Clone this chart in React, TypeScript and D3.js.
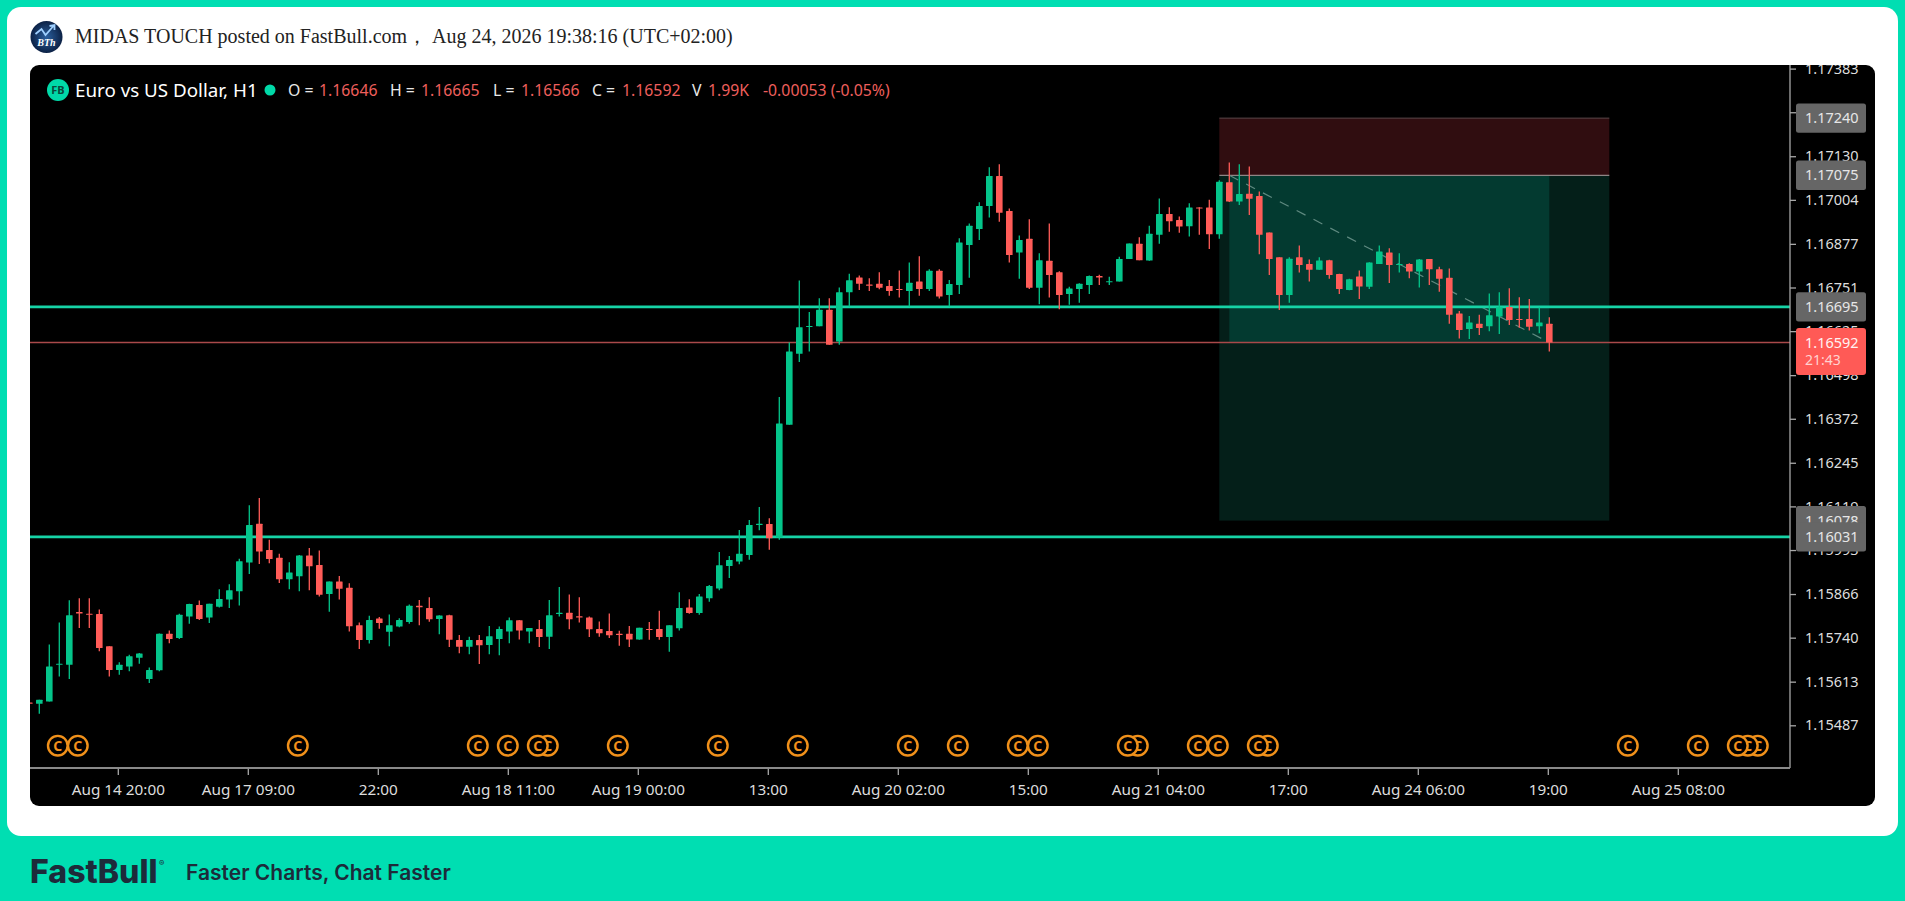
import { useEffect, useRef } from "react";
import * as d3 from "d3";

// candles, H1, oldest first
const opens = [
  1.15553, 1.15549, 1.15556, 1.15662, 1.15662, 1.15814, 1.15809, 1.15808, 1.15715, 1.15647,
  1.15657, 1.15682, 1.15621, 1.15646, 1.15751, 1.15739, 1.15801, 1.15834, 1.15798, 1.15829,
  1.15850, 1.15874, 1.15957, 1.16069, 1.15993, 1.15971, 1.15909, 1.15917, 1.15977, 1.15950,
  1.15866, 1.15902, 1.15884, 1.15776, 1.15733, 1.15795, 1.15757, 1.15772, 1.15785, 1.15832,
  1.15826, 1.15794, 1.15805, 1.15733, 1.15714, 1.15733, 1.15719, 1.15736, 1.15758, 1.15790,
  1.15758, 1.15765, 1.15743, 1.15808, 1.15812, 1.15802, 1.15798, 1.15765, 1.15759, 1.15751,
  1.15751, 1.15735, 1.15765, 1.15765, 1.15742, 1.15767, 1.15827, 1.15811, 1.15854, 1.15882,
  1.15947, 1.15960, 1.15979, 1.16065, 1.16068, 1.16029, 1.16355, 1.16560, 1.16637, 1.16639,
  1.16687, 1.16595, 1.16737, 1.16780, 1.16760, 1.16762, 1.16755, 1.16747, 1.16741, 1.16768,
  1.16747, 1.16799, 1.16729, 1.16758, 1.16874, 1.16920, 1.16986, 1.17073, 1.16972, 1.16852,
  1.16892, 1.16750, 1.16828, 1.16795, 1.16732, 1.16747, 1.16758, 1.16784, 1.16766, 1.16768,
  1.16833, 1.16877, 1.16829, 1.16903, 1.16963, 1.16946, 1.16928, 1.16982, 1.16982, 1.16905,
  1.17055, 1.16999, 1.17022, 1.17015, 1.16910, 1.16838, 1.16729, 1.16838, 1.16819, 1.16802,
  1.16830, 1.16790, 1.16744, 1.16783, 1.16753, 1.16819, 1.16852, 1.16816, 1.16819, 1.16797,
  1.16833, 1.16804, 1.16779, 1.16676, 1.16631, 1.16646, 1.16639, 1.16667, 1.16695, 1.16660,
  1.16660, 1.16639, 1.16646,
];
const highs = [
  1.15555, 1.15561, 1.15720, 1.15784, 1.15848, 1.15854, 1.15854, 1.15821, 1.15715, 1.15669,
  1.15691, 1.15696, 1.15654, 1.15752, 1.15761, 1.15809, 1.15838, 1.15847, 1.15838, 1.15880,
  1.15894, 1.15968, 1.16122, 1.16143, 1.16023, 1.15982, 1.15958, 1.15979, 1.15999, 1.15992,
  1.15902, 1.15918, 1.15897, 1.15784, 1.15803, 1.15800, 1.15807, 1.15796, 1.15836, 1.15849,
  1.15857, 1.15805, 1.15806, 1.15748, 1.15743, 1.15748, 1.15774, 1.15772, 1.15798, 1.15791,
  1.15768, 1.15791, 1.15849, 1.15886, 1.15865, 1.15857, 1.15801, 1.15787, 1.15810, 1.15760,
  1.15774, 1.15769, 1.15785, 1.15818, 1.15776, 1.15871, 1.15851, 1.15866, 1.15892, 1.15987,
  1.15976, 1.16051, 1.16080, 1.16117, 1.16085, 1.16435, 1.16592, 1.16771, 1.16680, 1.16720,
  1.16720, 1.16751, 1.16791, 1.16786, 1.16778, 1.16795, 1.16773, 1.16800, 1.16823, 1.16841,
  1.16804, 1.16804, 1.16773, 1.16893, 1.16936, 1.16997, 1.17098, 1.17107, 1.16979, 1.16901,
  1.16948, 1.16850, 1.16936, 1.16798, 1.16753, 1.16763, 1.16786, 1.16788, 1.16782, 1.16840,
  1.16878, 1.16896, 1.16929, 1.17008, 1.16983, 1.16956, 1.16994, 1.16983, 1.17004, 1.17061,
  1.17112, 1.17107, 1.17100, 1.17028, 1.16910, 1.16838, 1.16838, 1.16872, 1.16832, 1.16838,
  1.16831, 1.16791, 1.16776, 1.16800, 1.16824, 1.16872, 1.16864, 1.16850, 1.16821, 1.16833,
  1.16833, 1.16811, 1.16806, 1.16683, 1.16669, 1.16672, 1.16734, 1.16737, 1.16749, 1.16723,
  1.16718, 1.16693, 1.16665,
];
const lows = [
  1.15547, 1.15520, 1.15556, 1.15628, 1.15621, 1.15768, 1.15768, 1.15701, 1.15628, 1.15633,
  1.15643, 1.15665, 1.15609, 1.15643, 1.15724, 1.15736, 1.15780, 1.15791, 1.15782, 1.15827,
  1.15826, 1.15833, 1.15924, 1.15953, 1.15955, 1.15898, 1.15880, 1.15874, 1.15877, 1.15859,
  1.15815, 1.15850, 1.15758, 1.15707, 1.15723, 1.15766, 1.15715, 1.15770, 1.15780, 1.15776,
  1.15786, 1.15750, 1.15713, 1.15695, 1.15692, 1.15664, 1.15692, 1.15689, 1.15724, 1.15735,
  1.15724, 1.15713, 1.15707, 1.15801, 1.15764, 1.15784, 1.15742, 1.15743, 1.15739, 1.15717,
  1.15713, 1.15734, 1.15734, 1.15734, 1.15699, 1.15761, 1.15809, 1.15806, 1.15844, 1.15877,
  1.15912, 1.15952, 1.15965, 1.16050, 1.15994, 1.16023, 1.16355, 1.16536, 1.16566, 1.16639,
  1.16586, 1.16586, 1.16696, 1.16744, 1.16741, 1.16746, 1.16727, 1.16722, 1.16696, 1.16727,
  1.16741, 1.16719, 1.16696, 1.16732, 1.16779, 1.16888, 1.16953, 1.16941, 1.16823, 1.16776,
  1.16747, 1.16703, 1.16722, 1.16688, 1.16701, 1.16707, 1.16732, 1.16758, 1.16758, 1.16768,
  1.16833, 1.16830, 1.16828, 1.16877, 1.16912, 1.16909, 1.16898, 1.16903, 1.16862, 1.16892,
  1.16998, 1.16989, 1.16960, 1.16847, 1.16787, 1.16686, 1.16707, 1.16794, 1.16768, 1.16802,
  1.16776, 1.16732, 1.16743, 1.16718, 1.16747, 1.16819, 1.16764, 1.16794, 1.16778, 1.16751,
  1.16758, 1.16739, 1.16646, 1.16604, 1.16602, 1.16614, 1.16625, 1.16617, 1.16643, 1.16635,
  1.16627, 1.16619, 1.16566,
];
const closes = [
  1.15549, 1.15561, 1.15657, 1.15665, 1.15805, 1.15810, 1.15806, 1.15710, 1.15647, 1.15662,
  1.15686, 1.15694, 1.15647, 1.15751, 1.15736, 1.15806, 1.15837, 1.15794, 1.15838, 1.15852,
  1.15877, 1.15961, 1.16065, 1.15989, 1.15967, 1.15909, 1.15928, 1.15977, 1.15946, 1.15864,
  1.15902, 1.15881, 1.15773, 1.15733, 1.15791, 1.15782, 1.15776, 1.15791, 1.15832, 1.15828,
  1.15793, 1.15804, 1.15734, 1.15714, 1.15733, 1.15718, 1.15744, 1.15765, 1.15790, 1.15761,
  1.15768, 1.15742, 1.15805, 1.15812, 1.15793, 1.15798, 1.15764, 1.15753, 1.15747, 1.15748,
  1.15735, 1.15769, 1.15762, 1.15742, 1.15776, 1.15826, 1.15811, 1.15859, 1.15889, 1.15949,
  1.15964, 1.15982, 1.16065, 1.16069, 1.16027, 1.16358, 1.16566, 1.16636, 1.16640, 1.16687,
  1.16586, 1.16737, 1.16772, 1.16762, 1.16756, 1.16750, 1.16741, 1.16744, 1.16765, 1.16747,
  1.16799, 1.16725, 1.16761, 1.16881, 1.16929, 1.16986, 1.17073, 1.16967, 1.16845, 1.16888,
  1.16750, 1.16830, 1.16787, 1.16729, 1.16748, 1.16762, 1.16784, 1.16780, 1.16769, 1.16833,
  1.16878, 1.16830, 1.16906, 1.16963, 1.16942, 1.16927, 1.16982, 1.16979, 1.16905, 1.17056,
  1.16999, 1.17021, 1.17007, 1.16903, 1.16833, 1.16729, 1.16834, 1.16816, 1.16802, 1.16829,
  1.16787, 1.16747, 1.16775, 1.16754, 1.16823, 1.16855, 1.16816, 1.16819, 1.16797, 1.16832,
  1.16804, 1.16776, 1.16672, 1.16628, 1.16650, 1.16634, 1.16671, 1.16694, 1.16657, 1.16657,
  1.16638, 1.16650, 1.16592,
];

const priceTicks = [
  1.17383, 1.17257, 1.1713, 1.17004, 1.16877, 1.16751, 1.16625, 1.16498,
  1.16372, 1.16245, 1.16119, 1.15993, 1.15866, 1.1574, 1.15613, 1.15487,
];
const timeTickBars = [9, 22, 35, 48, 61, 74, 87, 100, 113, 126, 139, 152, 165];
const timeTickLabels = [
  "Aug 14 20:00", "Aug 17 09:00", "22:00", "Aug 18 11:00", "Aug 19 00:00", "13:00", "Aug 20 02:00",
  "15:00", "Aug 21 04:00", "17:00", "Aug 24 06:00", "19:00", "Aug 25 08:00",
];
// bars carrying a calendar event marker
const eventBars = [
  3, 5, 27, 45, 48, 51, 52, 59, 69, 77, 88, 93, 99, 101, 110, 111, 117, 119, 123, 124, 160, 167, 171, 172, 173,
];

// horizontal levels
const supportLevels = [1.16695, 1.16031];
const lastPrice = 1.16592;
const countdown = "21:43";
// short position tool
const stopLevel = 1.1724;
const entryLevel = 1.17075;
const targetLevel = 1.16078;
const toolStartBar = 119;
const toolEndBar = 158;
const lastBar = 152;
const boxedLevels = [1.1724, 1.17075, 1.16695, 1.16078, 1.16031];

const GREEN = "#04c58a";
const RED = "#ff5c58";
const TEAL = "#16d3a6";
const ORANGE = "#f0901a";
const UI_FONT = "'Noto Sans', sans-serif";

const chart = { left: 30, top: 65, right: 1875, bottom: 806 };
const plotRight = 1790;
const plotBottom = 768;

const legend = [
  { text: "O =", x: 288, red: false },
  { text: "1.16646", x: 319, red: true },
  { text: "H =", x: 390, red: false },
  { text: "1.16665", x: 421, red: true },
  { text: "L =", x: 493, red: false },
  { text: "1.16566", x: 521, red: true },
  { text: "C =", x: 592, red: false },
  { text: "1.16592", x: 622, red: true },
  { text: "V", x: 692, red: false },
  { text: "1.99K", x: 708, red: true },
  { text: "-0.00053 (-0.05%)", x: 763, red: true },
];

const App = () => {
  const ref = useRef<SVGSVGElement>(null);

  useEffect(() => {
    const svg = d3.select(ref.current);
    svg.selectAll("*").remove();

    const x = d3.scaleLinear().domain([0, lastBar]).range([29.3, 1549.3]);
    // the time axis sits a touch left of the bar centres
    const xAxisScale = d3.scaleLinear().domain([0, lastBar]).range([27.8, 1547.8]);
    const y = d3.scaleLinear().domain([1.15487, 1.17383]).range([725.3, 68.6]);

    // card
    svg.append("rect").attr("width", 1905).attr("height", 901).attr("fill", "#00deb2");
    svg.append("rect").attr("x", 7).attr("y", 7).attr("width", 1891).attr("height", 829)
      .attr("rx", 14).attr("fill", "#ffffff");

    // author row
    const avatar = svg.append("g").attr("transform", "translate(46.5,37)");
    const grad = svg.append("defs").append("radialGradient").attr("id", "avatarFill");
    grad.append("stop").attr("offset", "0%").attr("stop-color", "#2a5f9e");
    grad.append("stop").attr("offset", "100%").attr("stop-color", "#0c2145");
    avatar.append("circle").attr("r", 16).attr("fill", "url(#avatarFill)");
    avatar.append("path").attr("d", "M-11,-3 L-5,-8 L-1,-2 L7,-11 M3,-11 L8,-12 L8,-7")
      .attr("fill", "none").attr("stroke", "#9fd0ff").attr("stroke-width", 1.8);
    avatar.append("text").attr("y", 9).attr("text-anchor", "middle").attr("fill", "#ffffff")
      .attr("font-family", "'Liberation Serif', serif").attr("font-style", "italic").attr("font-weight", 700)
      .attr("font-size", 10).text("BTh");
    svg.append("text").attr("x", 75).attr("y", 43).attr("fill", "#222222")
      .attr("font-family", "'Liberation Serif', serif").attr("font-size", 20)
      .text("MIDAS TOUCH posted on FastBull.com\uFF0C");
    svg.append("text").attr("x", 432).attr("y", 43).attr("fill", "#222222")
      .attr("font-family", "'Liberation Serif', serif").attr("font-size", 20)
      .text("Aug 24, 2026 19:38:16 (UTC+02:00)");

    // chart panel
    svg.append("rect").attr("x", chart.left).attr("y", chart.top)
      .attr("width", chart.right - chart.left).attr("height", chart.bottom - chart.top)
      .attr("rx", 9).attr("fill", "#000000");
    const defs = svg.append("defs");
    defs.append("clipPath").attr("id", "panelClip").append("rect")
      .attr("x", chart.left).attr("y", chart.top)
      .attr("width", chart.right - chart.left).attr("height", chart.bottom - chart.top);
    defs.append("clipPath").attr("id", "plotClip").append("rect")
      .attr("x", chart.left).attr("y", chart.top)
      .attr("width", plotRight - chart.left).attr("height", plotBottom - chart.top);

    const plot = svg.append("g").attr("clip-path", "url(#plotClip)");

    // position tool
    const toolLeft = x(toolStartBar);
    const toolWidth = x(toolEndBar) - toolLeft;
    plot.append("rect").attr("x", toolLeft).attr("y", y(stopLevel))
      .attr("width", toolWidth).attr("height", y(entryLevel) - y(stopLevel)).attr("fill", "#300d10");
    plot.append("rect").attr("x", toolLeft).attr("y", y(entryLevel))
      .attr("width", toolWidth).attr("height", y(targetLevel) - y(entryLevel)).attr("fill", "#041f19");
    plot.append("rect").attr("x", x(toolStartBar + 1)).attr("y", y(entryLevel))
      .attr("width", x(lastBar) - x(toolStartBar + 1)).attr("height", y(lastPrice) - y(entryLevel))
      .attr("fill", "#033a30");
    plot.append("line").attr("x1", toolLeft).attr("x2", toolLeft + toolWidth)
      .attr("y1", y(stopLevel)).attr("y2", y(stopLevel)).attr("stroke", "#5a4648").attr("stroke-width", 1);
    plot.append("line").attr("x1", toolLeft).attr("x2", toolLeft + toolWidth)
      .attr("y1", y(entryLevel)).attr("y2", y(entryLevel)).attr("stroke", "#8f8585").attr("stroke-width", 1.3);
    plot.append("line").attr("x1", x(toolStartBar + 1)).attr("x2", x(lastBar))
      .attr("y1", y(entryLevel)).attr("y2", y(lastPrice))
      .attr("stroke", "#5f8a80").attr("stroke-width", 1.2).attr("stroke-dasharray", "10 9");

    // levels
    plot.selectAll(".level").data(supportLevels).join("line").attr("class", "level")
      .attr("x1", chart.left).attr("x2", plotRight)
      .attr("y1", (d) => y(d)).attr("y2", (d) => y(d))
      .attr("stroke", TEAL).attr("stroke-width", 2.8);
    plot.append("line").attr("x1", chart.left).attr("x2", plotRight)
      .attr("y1", y(lastPrice)).attr("y2", y(lastPrice))
      .attr("stroke", "#a9494a").attr("stroke-width", 1.5);

    // candles
    const bars = d3.range(opens.length);
    const colour = (i: number) => (closes[i] >= opens[i] ? GREEN : RED);
    plot.selectAll(".wick").data(bars).join("line").attr("class", "wick")
      .attr("x1", (i) => x(i)).attr("x2", (i) => x(i))
      .attr("y1", (i) => y(highs[i])).attr("y2", (i) => y(lows[i]))
      .attr("stroke", colour).attr("stroke-width", 1.3);
    plot.selectAll(".body").data(bars).join("rect").attr("class", "body")
      .attr("x", (i) => x(i) - 3.3).attr("width", 6.6)
      .attr("y", (i) => y(Math.max(opens[i], closes[i])))
      .attr("height", (i) => Math.max(1, Math.abs(y(opens[i]) - y(closes[i]))))
      .attr("rx", 0.5).attr("fill", colour);

    // event markers, earliest on top
    const eventRowY = 745.7;
    const markers = plot.selectAll(".event").data([...eventBars].reverse()).join("g").attr("class", "event")
      .attr("transform", (i) => `translate(${xAxisScale(i)},${eventRowY})`);
    markers.append("circle").attr("r", 9.8).attr("fill", "#000000").attr("stroke", ORANGE).attr("stroke-width", 2.4);
    markers.append("text").attr("text-anchor", "middle").attr("y", 5).attr("fill", ORANGE)
      .attr("font-family", UI_FONT).attr("font-size", 14).attr("font-weight", 700).text("C");

    // y axis
    const axisColour = "#a8a8a8";
    const yAxisClip = svg.append("g").attr("clip-path", "url(#panelClip)");
    const yAxis = yAxisClip.append("g").attr("transform", `translate(${plotRight},0)`)
      .call(d3.axisRight(y).tickValues(priceTicks).tickFormat((d) => (d as number).toFixed(5)).tickSize(6).tickPadding(9));
    yAxis.select(".domain").remove();
    yAxis.append("line").attr("y1", chart.top).attr("y2", plotBottom).attr("stroke", axisColour).attr("stroke-width", 1.3);
    yAxis.selectAll(".tick line").attr("stroke", axisColour).attr("stroke-width", 1.3);
    yAxis.selectAll(".tick text").attr("fill", "#dddddd").attr("font-family", UI_FONT).attr("font-size", 14.5);

    // x axis
    const xAxis = svg.append("g").attr("transform", `translate(0,${plotBottom})`)
      .call(d3.axisBottom(xAxisScale).tickValues(timeTickBars)
        .tickFormat((d) => timeTickLabels[timeTickBars.indexOf(d as number)]).tickSize(7).tickPadding(9));
    xAxis.select(".domain").remove();
    xAxis.append("line").attr("x1", chart.left).attr("x2", plotRight).attr("stroke", "#8a8a8a").attr("stroke-width", 1.8);
    xAxis.selectAll(".tick line").attr("stroke", axisColour).attr("stroke-width", 1.3);
    xAxis.selectAll(".tick text").attr("fill", "#dddddd").attr("font-family", UI_FONT).attr("font-size", 15.3);

    // boxed price labels
    const boxes = svg.selectAll(".priceBox").data(boxedLevels).join("g").attr("class", "priceBox")
      .attr("transform", (d) => `translate(1796,${y(d)})`);
    boxes.append("rect").attr("y", -14.7).attr("width", 70).attr("height", 29.4).attr("rx", 2.5).attr("fill", "#666666");
    boxes.append("text").attr("x", 9).attr("y", 5.2).attr("fill", "#e6e6e6")
      .attr("font-family", UI_FONT).attr("font-size", 14.5).text((d) => d.toFixed(5));

    const lastBox = svg.append("g").attr("transform", `translate(1796,${y(lastPrice)})`);
    lastBox.append("rect").attr("y", -14.5).attr("width", 70).attr("height", 47).attr("rx", 3).attr("fill", "#ff5a56");
    lastBox.append("text").attr("x", 9).attr("y", 5.2).attr("fill", "#fff2f2")
      .attr("font-family", UI_FONT).attr("font-size", 14.5).text(lastPrice.toFixed(5));
    lastBox.append("text").attr("x", 9).attr("y", 22).attr("fill", "#ffd2d0")
      .attr("font-family", UI_FONT).attr("font-size", 14).text(countdown);

    // legend row
    svg.append("circle").attr("cx", 58).attr("cy", 90).attr("r", 11).attr("fill", "#00d9a8");
    svg.append("text").attr("x", 58).attr("y", 94).attr("text-anchor", "middle").attr("fill", "#0a4a3c")
      .attr("font-family", UI_FONT).attr("font-size", 11).attr("font-weight", 700).text("FB");
    svg.append("text").attr("x", 75).attr("y", 96.5).attr("fill", "#ffffff")
      .attr("font-family", UI_FONT).attr("font-size", 18.8).text("Euro vs US Dollar, H1");
    svg.append("circle").attr("cx", 270).attr("cy", 90).attr("r", 5.5).attr("fill", "#00d9a8");
    svg.selectAll(".legendItem").data(legend).join("text").attr("class", "legendItem")
      .attr("x", (d) => d.x).attr("y", 95.5).attr("fill", (d) => (d.red ? "#ee5f5c" : "#e8e8e8"))
      .attr("font-family", UI_FONT).attr("font-size", 15.8).text((d) => d.text);

    // footer
    svg.append("text").attr("x", 30).attr("y", 883).attr("fill", "#1d2b3a")
      .attr("font-family", "Inter, sans-serif").attr("font-weight", 800).attr("font-size", 32).text("FastBull");
    svg.append("text").attr("x", 159).attr("y", 866).attr("fill", "#1d2b3a")
      .attr("font-family", "Inter, sans-serif").attr("font-size", 8).text("\u00AE");
    svg.append("text").attr("x", 186).attr("y", 880).attr("fill", "#1d2b3a")
      .attr("font-family", "Inter, sans-serif").attr("font-weight", 600).attr("font-size", 21).text("Faster Charts, Chat Faster");
  }, []);

  return <svg ref={ref} width={1905} height={901} style={{ position: "fixed", left: 0, top: 0, display: "block" }} />;
};

export default App;
